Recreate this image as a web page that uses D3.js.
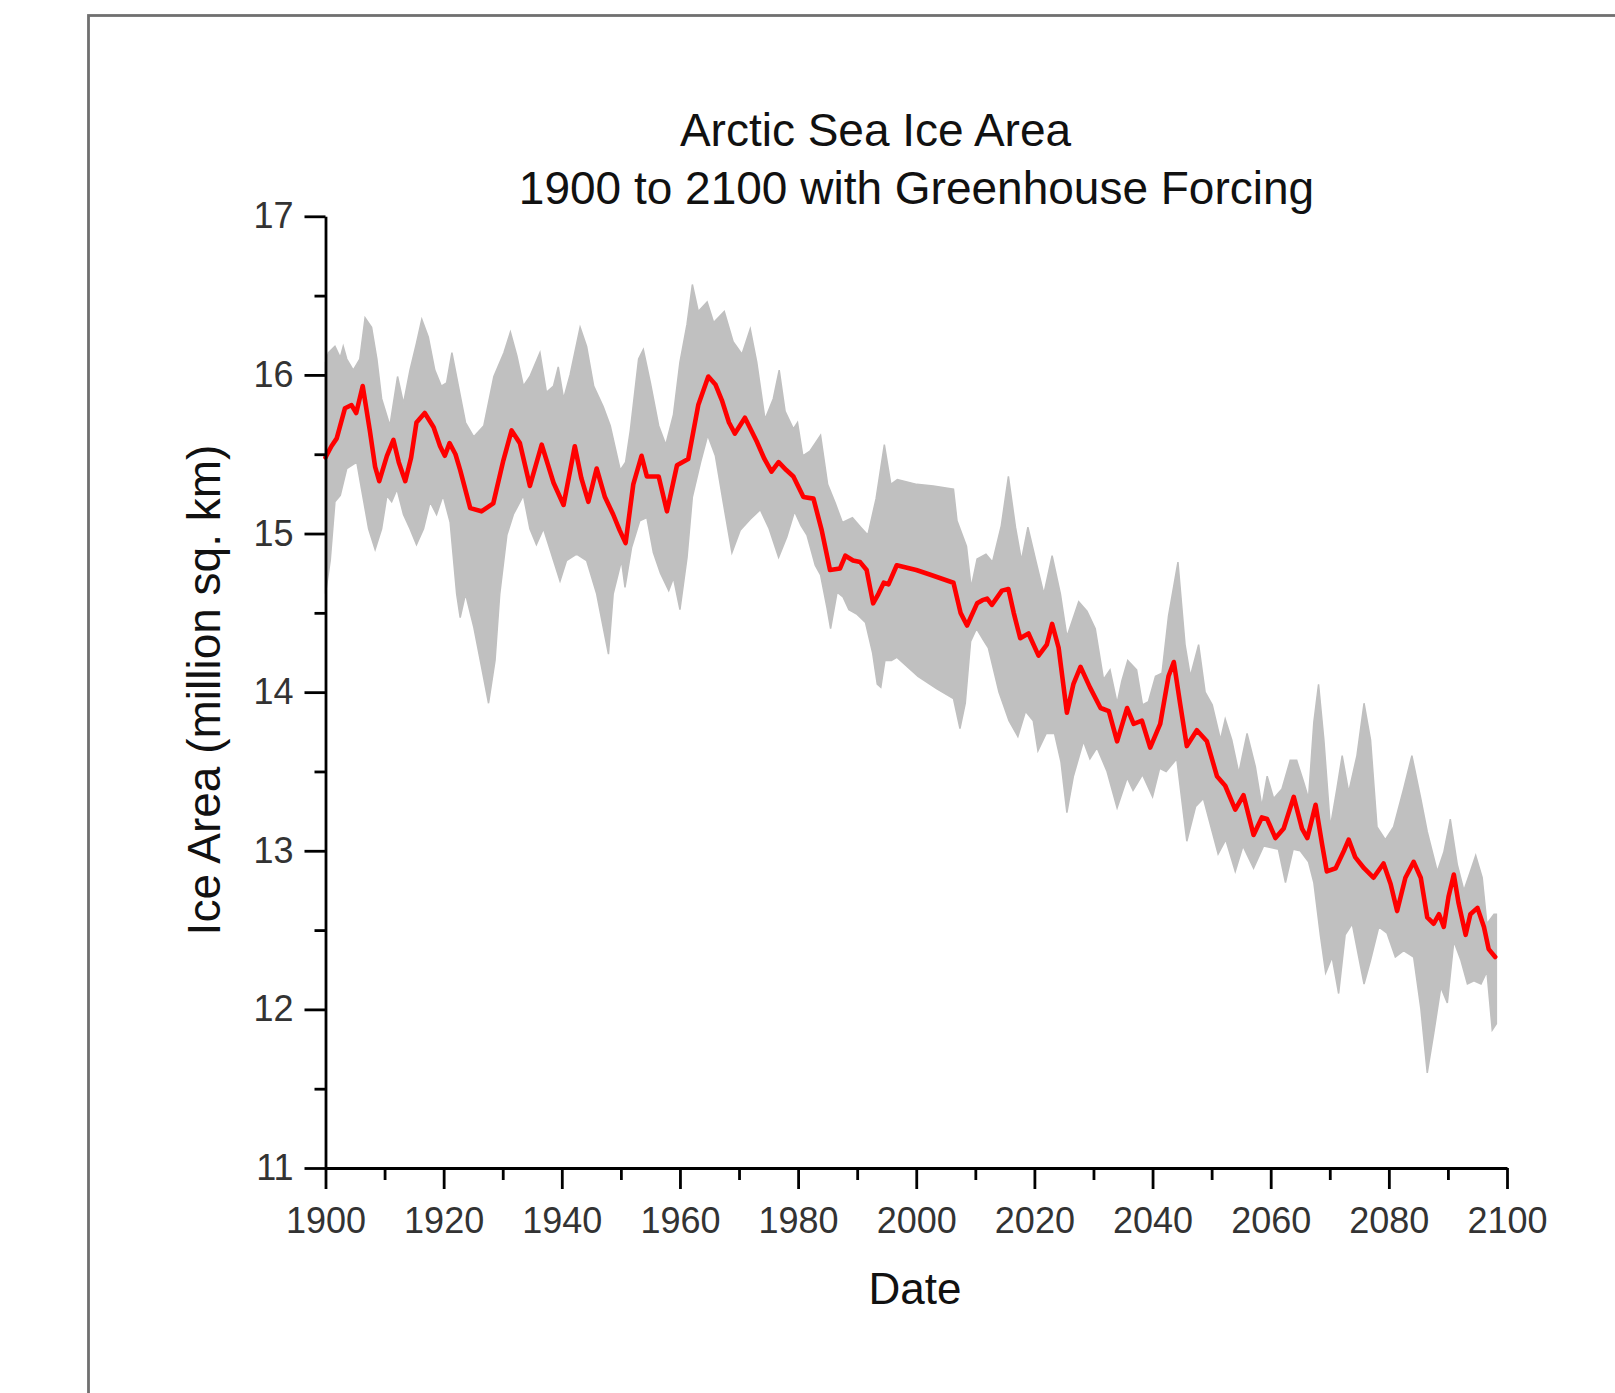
<!DOCTYPE html>
<html>
<head>
<meta charset="utf-8">
<script src="https://cdn.jsdelivr.net/npm/d3@7"></script>
<style>
  html, body { margin: 0; padding: 0; background: #ffffff; }
  svg { display: block; }
  text { font-family: "Liberation Sans", Arial, sans-serif; }
</style>
</head>
<body>
<svg id="chart" width="1615" height="1393"></svg>
<script>
// ---------- DATA ----------
const titleLines = ["Arctic Sea Ice Area", "1900 to 2100 with Greenhouse Forcing"];
const xLabel = "Date";
const yLabel = "Ice Area (million sq. km)";
const xTickValues = [1900, 1920, 1940, 1960, 1980, 2000, 2020, 2040, 2060, 2080, 2100];
const xMinorTickValues = [1910, 1930, 1950, 1970, 1990, 2010, 2030, 2050, 2070, 2090];
const yTickValues = [11, 12, 13, 14, 15, 16, 17];
const yMinorTickValues = [11.5, 12.5, 13.5, 14.5, 15.5, 16.5];

// ensemble mean (red line)
const meanYears = [1900.0,1901.0,1901.9,1903.3,1904.4,1905.2,1906.3,1907.5,1908.4,1909.1,1910.4,1911.5,1912.4,1913.5,1914.5,1915.4,1916.8,1918.3,1919.4,1920.2,1921.0,1922.0,1922.8,1924.5,1926.4,1928.4,1930.1,1931.5,1932.9,1934.6,1936.6,1938.6,1940.3,1942.2,1943.3,1944.5,1945.9,1947.3,1948.7,1949.8,1950.8,1952.1,1953.5,1954.4,1956.4,1957.8,1959.5,1961.4,1963.1,1964.8,1966.0,1967.1,1968.3,1969.3,1971.0,1973.0,1974.3,1975.5,1976.7,1978.0,1979.2,1980.9,1982.6,1984.0,1985.4,1987.1,1988.0,1989.3,1990.5,1991.6,1992.7,1993.6,1994.5,1995.3,1996.7,2000.0,2002.4,2006.3,2007.5,2008.6,2010.3,2011.2,2012.0,2012.8,2014.5,2015.6,2016.5,2017.6,2019.0,2020.7,2022.1,2023.0,2024.1,2025.5,2026.6,2027.8,2029.4,2031.2,2032.6,2034.0,2035.7,2036.8,2038.2,2039.6,2041.3,2042.7,2043.6,2044.7,2045.8,2047.5,2049.2,2050.9,2052.3,2054.0,2055.4,2057.1,2058.5,2059.4,2060.8,2062.2,2063.9,2065.3,2066.2,2067.6,2068.7,2069.5,2071.0,2072.4,2073.2,2074.3,2075.8,2077.4,2079.1,2080.3,2081.4,2082.8,2084.2,2085.4,2086.5,2087.6,2088.5,2089.3,2090.1,2091.0,2091.8,2093.0,2093.8,2095.0,2096.1,2096.9,2098.0];
const meanValues = [15.48,15.55,15.60,15.79,15.81,15.76,15.93,15.65,15.42,15.33,15.49,15.59,15.45,15.33,15.48,15.70,15.76,15.67,15.55,15.49,15.57,15.50,15.40,15.16,15.14,15.19,15.46,15.65,15.57,15.30,15.56,15.32,15.18,15.55,15.35,15.20,15.41,15.23,15.12,15.02,14.94,15.31,15.49,15.36,15.36,15.14,15.43,15.47,15.81,15.99,15.94,15.84,15.70,15.63,15.73,15.58,15.47,15.39,15.45,15.40,15.36,15.23,15.22,15.02,14.77,14.78,14.86,14.83,14.82,14.77,14.56,14.62,14.69,14.68,14.80,14.77,14.74,14.69,14.50,14.42,14.56,14.58,14.59,14.55,14.64,14.65,14.50,14.34,14.37,14.23,14.30,14.43,14.28,13.87,14.05,14.16,14.03,13.90,13.88,13.69,13.90,13.80,13.82,13.65,13.80,14.10,14.19,13.92,13.66,13.76,13.69,13.47,13.41,13.26,13.35,13.10,13.21,13.20,13.08,13.14,13.34,13.14,13.08,13.29,13.04,12.87,12.89,13.00,13.07,12.96,12.89,12.83,12.92,12.79,12.62,12.83,12.93,12.83,12.58,12.54,12.60,12.52,12.71,12.85,12.67,12.47,12.60,12.64,12.52,12.38,12.33];

// upper edge of the grey range
const upperYears = [1900.0,1900.5,1901.6,1902.5,1903.0,1903.6,1904.7,1905.8,1906.7,1907.8,1908.7,1909.5,1910.9,1912.2,1913.2,1914.3,1915.4,1916.3,1917.4,1918.5,1919.6,1920.5,1921.4,1922.5,1923.7,1925.1,1926.8,1928.5,1930.2,1931.3,1932.4,1933.5,1934.6,1936.3,1937.4,1938.6,1939.4,1940.3,1941.4,1943.1,1944.2,1945.4,1947.0,1948.2,1949.9,1950.8,1951.6,1953.0,1953.8,1955.0,1956.4,1957.6,1958.9,1960.0,1961.2,1962.1,1963.1,1964.6,1965.7,1967.5,1969.0,1970.5,1971.9,1973.0,1974.4,1975.8,1976.8,1977.8,1979.2,1979.9,1980.8,1982.0,1983.8,1985.0,1986.3,1987.5,1989.2,1990.6,1991.8,1993.2,1994.6,1995.7,1996.8,2000.1,2002.9,2006.3,2006.9,2008.5,2009.3,2010.3,2011.8,2012.9,2014.4,2015.6,2016.8,2017.8,2018.9,2020.3,2021.6,2023.0,2024.4,2025.5,2027.5,2028.9,2030.3,2031.7,2032.8,2034.0,2034.8,2035.8,2037.3,2038.3,2039.3,2040.5,2041.6,2042.7,2044.3,2045.5,2046.4,2047.8,2048.9,2050.1,2051.5,2052.3,2053.4,2054.6,2056.0,2057.4,2058.5,2059.4,2060.5,2061.9,2063.3,2064.4,2065.6,2066.4,2067.3,2068.1,2069.0,2070.1,2071.2,2072.1,2073.2,2074.6,2075.8,2076.9,2078.0,2079.4,2080.8,2082.5,2083.9,2085.4,2086.5,2088.2,2089.3,2090.4,2091.6,2092.7,2093.8,2094.7,2095.8,2096.6,2097.8,2098.2];
const upperValues = [16.08,16.14,16.18,16.11,16.18,16.10,16.03,16.10,16.36,16.30,16.10,15.85,15.68,15.99,15.82,16.03,16.20,16.35,16.24,16.03,15.93,15.95,16.14,15.93,15.70,15.61,15.68,15.99,16.14,16.27,16.12,15.93,15.99,16.14,15.89,15.93,16.05,15.85,16.00,16.30,16.18,15.93,15.80,15.68,15.40,15.45,15.65,16.10,16.16,15.95,15.68,15.56,15.75,16.08,16.32,16.57,16.40,16.46,16.33,16.40,16.21,16.13,16.29,16.08,15.72,15.85,16.03,15.77,15.66,15.70,15.49,15.52,15.62,15.31,15.19,15.07,15.10,15.04,14.99,15.22,15.56,15.31,15.34,15.31,15.30,15.28,15.08,14.92,14.66,14.84,14.87,14.82,15.05,15.36,15.04,14.83,15.04,14.82,14.62,14.86,14.62,14.35,14.57,14.51,14.40,14.08,14.14,13.93,14.07,14.20,14.14,13.92,13.94,14.10,14.12,14.48,14.82,14.30,14.10,14.30,14.00,13.92,13.70,13.83,13.70,13.49,13.74,13.53,13.28,13.47,13.33,13.39,13.57,13.57,13.43,13.33,13.81,14.05,13.70,13.15,13.39,13.60,13.37,13.60,13.93,13.70,13.15,13.07,13.15,13.39,13.60,13.33,13.12,12.87,12.99,13.20,12.91,12.75,12.87,12.97,12.83,12.54,12.60,12.60];

// lower edge of the grey range
const lowerYears = [1900.0,1900.8,1901.6,1902.5,1903.6,1905.3,1906.1,1907.3,1908.4,1909.5,1910.4,1911.2,1912.1,1913.2,1914.3,1915.4,1916.6,1917.7,1918.8,1919.9,1921.1,1922.2,1922.8,1923.7,1925.1,1926.2,1927.6,1928.7,1929.5,1930.7,1931.8,1933.5,1934.6,1935.7,1936.9,1938.6,1939.7,1940.8,1942.5,1944.2,1945.9,1947.0,1947.9,1948.7,1950.1,1950.7,1951.8,1953.2,1954.4,1955.5,1956.7,1958.1,1958.9,1960.0,1961.2,1962.1,1963.5,1964.7,1966.0,1967.4,1968.8,1970.2,1971.9,1973.6,1975.1,1976.7,1978.1,1979.4,1980.5,1981.5,1982.9,1983.8,1984.9,1985.5,1986.6,1987.6,1988.6,1990.0,1991.4,1992.6,1993.4,1994.0,1994.7,1995.8,1996.7,2000.3,2003.5,2006.3,2007.4,2008.3,2009.2,2010.2,2011.5,2012.2,2014.0,2015.7,2017.2,2018.5,2019.8,2020.6,2022.0,2023.4,2024.5,2025.5,2026.6,2028.3,2029.4,2030.6,2032.3,2034.0,2035.7,2036.7,2038.3,2040.0,2041.2,2042.3,2044.1,2045.8,2047.3,2048.6,2051.1,2052.4,2054.0,2055.3,2057.1,2058.8,2060.0,2061.3,2062.5,2063.8,2065.0,2066.4,2067.3,2068.4,2069.3,2070.4,2071.5,2072.6,2073.8,2074.9,2075.8,2076.9,2078.3,2079.7,2081.1,2082.5,2084.2,2085.4,2086.5,2087.6,2088.8,2089.9,2091.0,2092.2,2093.3,2094.4,2095.6,2096.6,2097.5,2098.2];
const lowerValues = [14.62,14.83,15.20,15.24,15.41,15.45,15.28,15.03,14.90,15.03,15.24,15.20,15.28,15.12,15.03,14.93,15.03,15.20,15.12,15.24,15.07,14.62,14.47,14.62,14.41,14.20,13.93,14.20,14.62,14.99,15.12,15.24,15.03,14.93,15.03,14.83,14.70,14.83,14.87,14.83,14.62,14.41,14.24,14.62,14.83,14.66,14.91,15.08,15.10,14.88,14.75,14.64,14.72,14.52,14.85,15.23,15.45,15.62,15.49,15.18,14.88,15.02,15.09,15.15,15.03,14.85,14.98,15.14,15.05,14.99,14.80,14.74,14.53,14.40,14.63,14.60,14.52,14.49,14.44,14.25,14.05,14.03,14.20,14.20,14.22,14.10,14.02,13.96,13.77,13.93,14.32,14.40,14.32,14.28,14.00,13.82,13.72,13.88,13.82,13.63,13.74,13.74,13.56,13.24,13.47,13.69,13.58,13.65,13.50,13.27,13.46,13.38,13.48,13.34,13.52,13.50,13.58,13.06,13.28,13.33,12.98,13.07,12.87,13.03,12.89,13.03,13.02,13.01,12.80,13.01,13.00,12.93,12.80,12.47,12.23,12.33,12.10,12.47,12.54,12.33,12.16,12.31,12.52,12.48,12.33,12.37,12.33,12.01,11.60,11.85,12.14,12.04,12.43,12.31,12.16,12.18,12.16,12.24,11.87,11.91];

// ---------- DRAWING ----------
const svg = d3.select("#chart");
const W = 1615, H = 1393;
svg.append("rect").attr("x", 0).attr("y", 0).attr("width", W).attr("height", H).attr("fill", "#ffffff");

// outer frame (runs off the right and bottom edges)
svg.append("rect")
  .attr("x", 88.5).attr("y", 15.5)
  .attr("width", W + 20).attr("height", H + 20)
  .attr("fill", "none").attr("stroke", "#707070").attr("stroke-width", 2.8);

const x = d3.scaleLinear().domain([1900, 2100]).range([325.5, 1507]);
const y = d3.scaleLinear().domain([11, 17]).range([1168, 216.3]);

// grey range polygon
const upperPts = upperYears.map((yr, i) => [yr, upperValues[i]]);
const lowerPts = lowerYears.map((yr, i) => [yr, lowerValues[i]]).reverse();
const poly = d3.line().x(d => x(d[0])).y(d => y(d[1]));
svg.append("path")
  .attr("d", poly(upperPts.concat(lowerPts)) + "Z")
  .attr("fill", "#c0c0c0").attr("stroke", "#c0c0c0").attr("stroke-width", 1.5)
  .attr("stroke-linejoin", "miter");

// red mean line
const meanPts = meanYears.map((yr, i) => [yr, meanValues[i]]);
svg.append("path")
  .attr("d", d3.line().x(d => x(d[0])).y(d => y(d[1]))(meanPts))
  .attr("fill", "none").attr("stroke", "#ff0000").attr("stroke-width", 4.6)
  .attr("stroke-linejoin", "round").attr("stroke-linecap", "round");

// axes
const tickFont = 36;
const yAxisG = svg.append("g").attr("transform", `translate(${x(1900)},0)`);
yAxisG.call(d3.axisLeft(y).tickValues(yTickValues).tickSize(21).tickSizeOuter(0).tickPadding(11).tickFormat(d3.format("d")));
const yMinorG = svg.append("g").attr("transform", `translate(${x(1900)},0)`);
yMinorG.call(d3.axisLeft(y).tickValues(yMinorTickValues).tickSize(11).tickSizeOuter(0).tickFormat(""));

const xAxisG = svg.append("g").attr("transform", `translate(0,${y(11)})`);
xAxisG.call(d3.axisBottom(x).tickValues(xTickValues).tickSize(21).tickSizeOuter(0).tickPadding(18).tickFormat(d3.format("d")));
const xMinorG = svg.append("g").attr("transform", `translate(0,${y(11)})`);
xMinorG.call(d3.axisBottom(x).tickValues(xMinorTickValues).tickSize(12).tickSizeOuter(0).tickFormat(""));

svg.selectAll(".domain").attr("stroke", "#000").attr("stroke-width", 2.8);
svg.selectAll(".tick line").attr("stroke", "#000").attr("stroke-width", 2.8);
svg.selectAll(".tick text")
  .attr("font-family", "'Liberation Sans', Arial, sans-serif")
  .attr("font-size", tickFont).attr("fill", "#333");
yMinorG.select(".domain").remove();
xMinorG.select(".domain").remove();

// titles
svg.append("text")
  .attr("x", 875.5).attr("y", 146)
  .attr("text-anchor", "middle").attr("font-size", 46).attr("fill", "#111")
  .text(titleLines[0]);
svg.append("text")
  .attr("x", 916.5).attr("y", 204)
  .attr("text-anchor", "middle").attr("font-size", 46).attr("fill", "#111")
  .text(titleLines[1]);

// axis titles
svg.append("text")
  .attr("x", 915).attr("y", 1304)
  .attr("text-anchor", "middle").attr("font-size", 44).attr("fill", "#111")
  .text(xLabel);
svg.append("text")
  .attr("transform", "translate(220,690) rotate(-90)")
  .attr("text-anchor", "middle").attr("font-size", 46).attr("fill", "#111")
  .text(yLabel);
</script>
</body>
</html>
